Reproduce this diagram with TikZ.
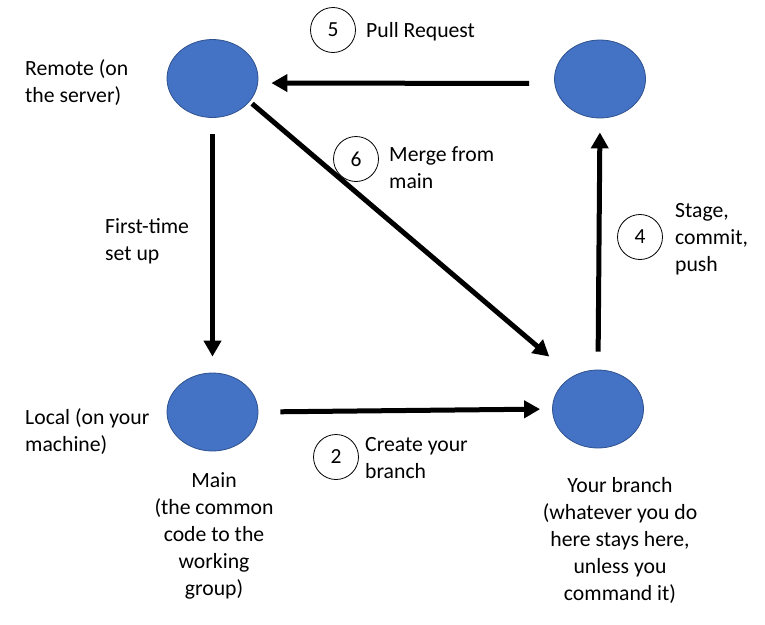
\documentclass[tikz,border=0pt]{standalone}
\usepackage{fontspec}
\setmainfont{Carlito}
\usetikzlibrary{arrows.meta,shapes.geometric}
\definecolor{nodeblue}{HTML}{4472C4}
\definecolor{nodeedge}{HTML}{2F528F}
\begin{document}
\begin{tikzpicture}[x=1pt,y=-1pt,
  repo/.style={ellipse,fill=nodeblue,draw=nodeedge,line width=0.8pt,minimum width=91pt,minimum height=78pt,inner sep=0pt},
  stepnum/.style={circle,draw=black,line width=0.8pt,minimum size=45pt,inner sep=0pt,font=\fontsize{21.5pt}{27pt}\selectfont},
  lbl/.style={inner sep=0pt,font=\fontsize{21.7pt}{27pt}\selectfont,execute at begin node=\strut},
  flow/.style={line width=5pt,-{Triangle[length=16pt,width=17pt]}}
]
\path[use as bounding box] (0,0) rectangle (765,624);
% repositories
\node[repo] (TL) at (212.5,78.5) {};
\node[repo] (TR) at (600,79) {};
\node[repo] (BL) at (212.5,412) {};
\node[repo] (BR) at (598,409) {};
% arrows
\draw[flow,shorten <=25pt,shorten >=13pt] ([yshift=-4.5pt]TR.west) -- ([yshift=-4.5pt]TL.east);
\draw[flow,shorten <=16pt,shorten >=16pt] (TL.south) -- (BL.north);
\draw[flow,shorten <=52pt,shorten >=64pt] ([yshift=8.5pt]TL.center) -- ([yshift=11pt]BR.center);
\draw[flow,shorten <=22pt,shorten >=12pt] (BL.east) -- (BR.west);
\draw[flow,shorten <=18pt,shorten >=14pt] (BR.north) -- (TR.south);
% step numbers
\node[stepnum,minimum width=41pt] (s5) at (333,30) {5};
\node[stepnum] (s6) at (356,159) {6};
\node[stepnum] (s4) at (640,237) {4};
\node[stepnum] (s2) at (336,457) {2};
% labels
\node[lbl,anchor=north west,align=left] (lremote) at (25,59) {Remote (on\\the server)};
\node[lbl,anchor=north west,align=left] (lfirst) at (105,218.5) {First-time\\set up};
\node[lbl,anchor=north west,align=left] (llocal) at (25,408.5) {Local (on your\\machine)};
\node[lbl,anchor=north,align=center] (lmain) at (214,472) {Main\\(the common\\code to the\\working\\group)};
\node[lbl,anchor=north,align=center] (lbranch) at (620,477) {Your branch\\(whatever you do\\here stays here,\\unless you\\command it)};
\node[lbl,anchor=north west,align=left] (lpull) at (366,18.5) {Pull Request};
\node[lbl,anchor=north west,align=left] (lmerge) at (389,146.5) {Merge from\\main};
\node[lbl,anchor=north west,align=left] (lstage) at (675,203) {Stage,\\commit,\\push};
\node[lbl,anchor=north west,align=left] (lcreate) at (365,437) {Create your\\branch};
\end{tikzpicture}
\end{document}
